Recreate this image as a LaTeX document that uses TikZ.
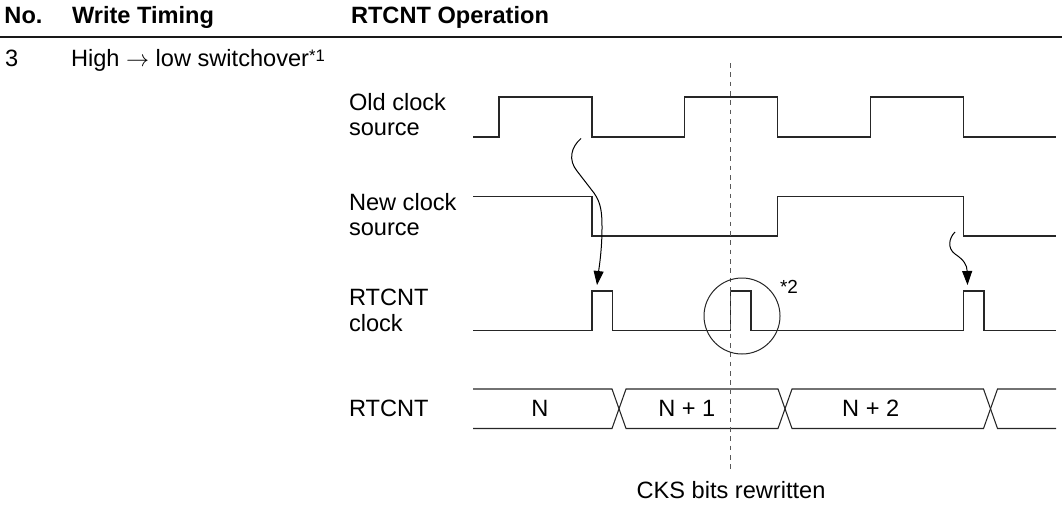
\documentclass[tikz,border=0pt]{standalone}
\usepackage{fontspec}
\setmainfont{Liberation Sans}
\usetikzlibrary{arrows.meta}
\begin{document}
\begin{tikzpicture}[x=0.75pt,y=-0.75pt,
  txt/.style={inner sep=0pt, outer sep=0pt, font=\fontsize{17.7}{21}\selectfont},
  hdr/.style={inner sep=0pt, outer sep=0pt, font=\fontsize{17.7}{21}\selectfont\bfseries},
  small/.style={inner sep=0pt, outer sep=0pt, font=\fontsize{14.2}{14.2}\selectfont},
  wave/.style={line width=1.1pt, draw=black!85, line join=miter},
  bus/.style={line width=0.8pt, draw=black!85},
  guide/.style={line width=0.8pt, draw=black!65, dash pattern=on 3.6pt off 3.4pt},
  curly/.style={line width=0.75pt, draw=black, -{Triangle[length=10.5pt,width=7.5pt]}},
  ring/.style={draw=black!85, line width=0.75pt, circle, minimum size=57pt, inner sep=0pt},
]
\useasboundingbox (0,0) rectangle (1062,504);

% header
\node[hdr, anchor=base west] (hno) at (4.5,23.3) {No.};
\node[hdr, anchor=base west] (hwt) at (72,23.3) {Write Timing};
\node[hdr, anchor=base west] (hop) at (351,23.3) {RTCNT Operation};
\coordinate (rl) at (0,36.7);
\coordinate (rr) at (1062,36.7);
\draw[line width=1.4pt, draw=black!90] (rl) -- (rr);

\node[txt, anchor=base west] (num) at (5,66.7) {3};
\node[txt, anchor=base west] (tim) at (71,66.7) {High $\rightarrow$ low switchover\raisebox{3.8pt}{\fontsize{12.5}{12.5}\selectfont *1}};

% signal labels
\node[txt, anchor=base west] (l1a) at (349,110) {Old clock};
\node[txt, anchor=base west] (l1b) at (349,135) {source};
\node[txt, anchor=base west] (l2a) at (349,210) {New clock};
\node[txt, anchor=base west] (l2b) at (349,235) {source};
\node[txt, anchor=base west] (l3a) at (349,305) {RTCNT};
\node[txt, anchor=base west] (l3b) at (349,331.7) {clock};
\node[txt, anchor=base west] (l4) at (349,416.7) {RTCNT};

% old clock source
\draw[wave] (473,137) -- (499,137) -- (499,97) -- (592,97) -- (592,137) -- (684.7,137) -- (684.7,97) -- (777.6,97) -- (777.6,137) -- (870.4,137) -- (870.4,97) -- (963.3,97) -- (963.3,137) -- (1056,137);
% new clock source
\draw[wave] (473,196.5) -- (592,196.5) -- (592,236) -- (777.6,236) -- (777.6,196.5) -- (963.3,196.5) -- (963.3,236) -- (1056,236);
% RTCNT clock
\draw[wave] (473,330.5) -- (592,330.5) -- (592,291) -- (612.5,291) -- (612.5,330.5) -- (730.7,330.5) -- (730.7,291) -- (751.2,291) -- (751.2,330.5) -- (963.3,330.5) -- (963.3,291) -- (984,291) -- (984,330.5) -- (1056,330.5);
% RTCNT bus
\draw[bus] (473,389) -- (612,389) -- (626,428.5) -- (778,428.5) -- (792,389) -- (983.5,389) -- (997.5,428.5) -- (1056,428.5);
\draw[bus] (473,428.5) -- (612,428.5) -- (626,389) -- (778,389) -- (792,428.5) -- (983.5,428.5) -- (997.5,389) -- (1056,389);
\node[txt, anchor=base] (vN) at (540,416.7) {N};
\node[txt, anchor=base] (vN1) at (686.8,416.7) {N + 1};
\node[txt, anchor=base] (vN2) at (870.7,416.7) {N + 2};

% rewrite guide
\coordinate (gtop) at (730.7,63);
\coordinate (gbot) at (730.7,470);
\draw[guide] (gtop) -- (gbot);
\node[txt, anchor=base] (cks) at (731,498.3) {CKS bits rewritten};

% circled pulse
\node[ring] (circ) at (742,316) {};
\node[small, anchor=base west] (n2) at (780,293.3) {*2};

% causal arrows
\coordinate (a1s) at (581,138.5);
\coordinate (a1e) at (597,285);
\draw[curly] (a1s) .. controls (571,147) and (568,160) .. (577,171) -- (594,193) .. controls (601,203) and (602,212) .. (602,228) .. controls (602,250) and (599,268) .. (a1e);
\coordinate (a2s) at (955,232);
\coordinate (a2e) at (967.5,285);
\draw[curly] (a2s) .. controls (949,238) and (947,248) .. (955,254) .. controls (964,260) and (967,265) .. (a2e);
\end{tikzpicture}
\end{document}
